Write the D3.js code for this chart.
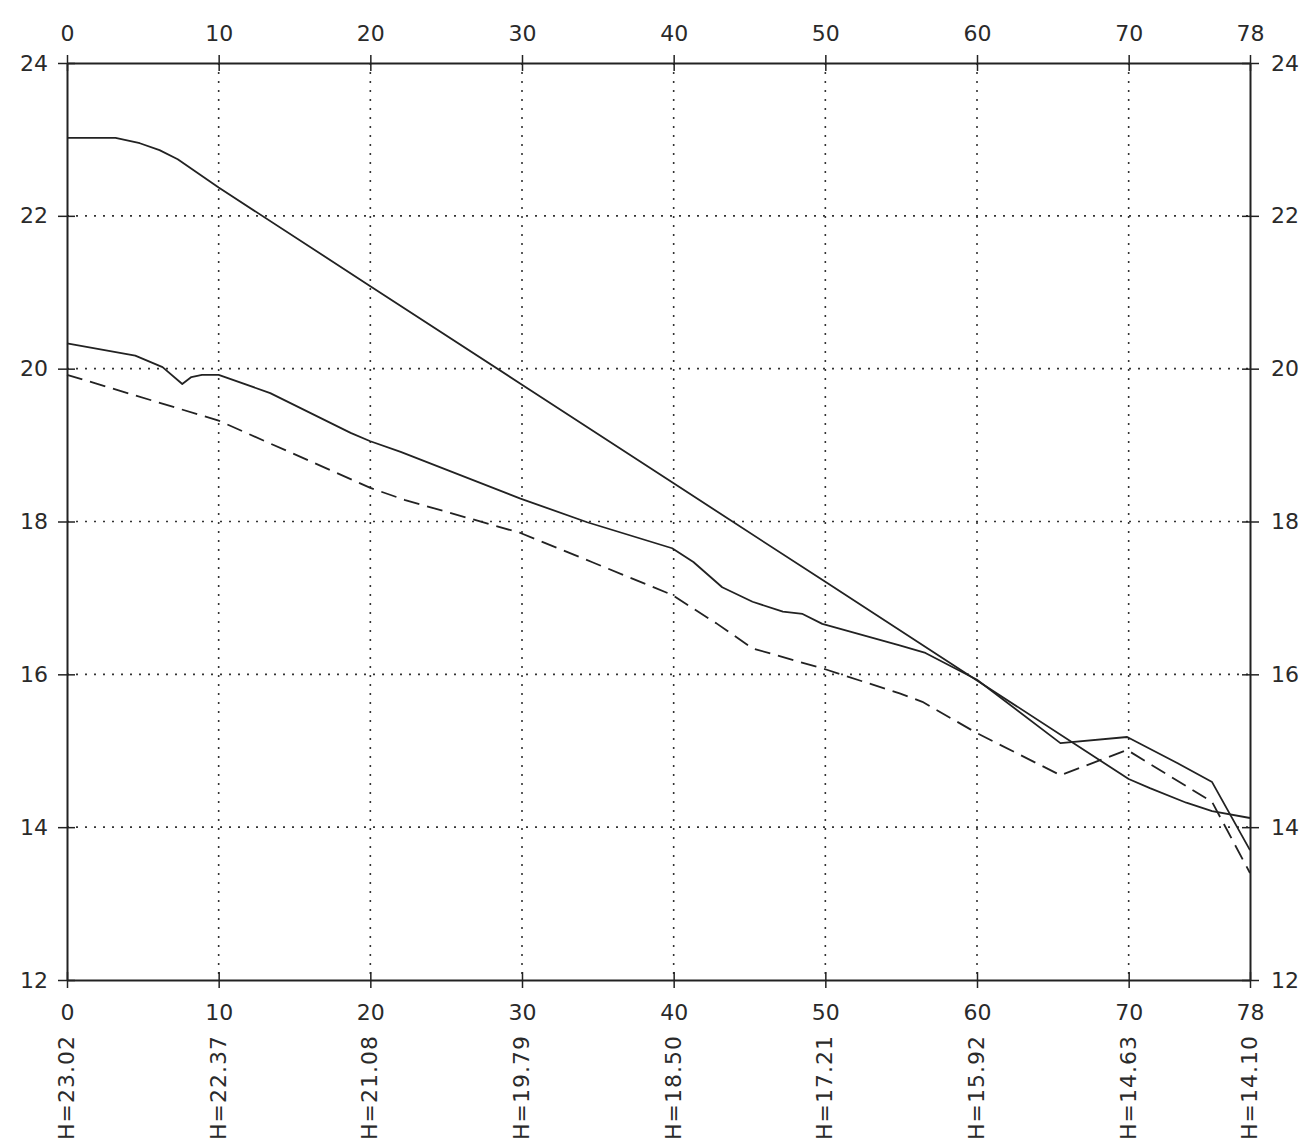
<!DOCTYPE html>
<html>
<head>
<meta charset="utf-8">
<script src="https://cdn.jsdelivr.net/npm/d3@7"></script>
<style>
  body { margin: 0; background: #fff; }
  text { font-family: "DejaVu Sans", sans-serif; font-size: 22px; fill: #2a2a2a; }
</style>
</head>
<body>
<div id="chart"></div>
<script>
// x ticks (top / bottom) and y ticks (left / right)
const xTicks = [0, 10, 20, 30, 40, 50, 60, 70, 78];
const yTicks = [12, 14, 16, 18, 20, 22, 24];
const hLabels = ['H=23.02', 'H=22.37', 'H=21.08', 'H=19.79', 'H=18.50', 'H=17.21', 'H=15.92', 'H=14.63', 'H=14.10'];

// upper solid line
const lineAx = [0, 3.2, 4.8, 6.1, 7.3, 10, 20, 30, 40, 50, 60, 70, 71.4, 73.8, 75.5, 78];
const lineAy = [23.02, 23.02, 22.95, 22.86, 22.74, 22.37, 21.08, 19.79, 18.50, 17.21, 15.92, 14.63, 14.51, 14.32, 14.21, 14.12];

// middle solid line
const lineBx = [0, 4.5, 6.3, 7.6, 8.2, 8.9, 10, 13.4, 18.7, 20, 22, 29.9, 34.3, 39.9, 41.3, 43.2, 45.2, 47.2, 48.5, 49.8, 54.9, 56.6, 60, 65.5, 69.9, 73.2, 75.5, 78];
const lineBy = [20.33, 20.17, 20.02, 19.80, 19.89, 19.92, 19.92, 19.68, 19.16, 19.05, 18.91, 18.30, 17.99, 17.65, 17.47, 17.14, 16.95, 16.82, 16.79, 16.66, 16.38, 16.28, 15.93, 15.10, 15.18, 14.84, 14.59, 13.70];

// dashed line
const lineCx = [0, 10, 20, 22.3, 29.9, 34.6, 39.9, 40.9, 42.8, 45.2, 50.1, 54.9, 56.4, 60, 65.5, 69.9, 75.5, 78];
const lineCy = [19.92, 19.32, 18.44, 18.28, 17.85, 17.47, 17.04, 16.91, 16.67, 16.34, 16.06, 15.75, 15.64, 15.23, 14.68, 15.01, 14.33, 13.40];

const width = 1306, height = 1147;
const x = d3.scaleLinear().domain([0, 78]).range([67, 1250]);
const y = d3.scaleLinear().domain([12, 24]).range([980, 63]);

const svg = d3.select('#chart').append('svg')
    .attr('width', width)
    .attr('height', height);

// Grid (dotted)
const grid = svg.append('g')
    .attr('stroke', '#333')
    .attr('stroke-width', 1.6)
    .attr('stroke-dasharray', '2,7');

grid.selectAll('line.v')
    .data(xTicks.filter(d => d > 0 && d < 78))
    .join('line')
    .attr('class', 'v')
    .attr('x1', d => x(d)).attr('x2', d => x(d))
    .attr('y1', y(24)).attr('y2', y(12));

grid.selectAll('line.h')
    .data(yTicks.filter(d => d > 12 && d < 24))
    .join('line')
    .attr('class', 'h')
    .attr('x1', x(0)).attr('x2', x(78))
    .attr('y1', d => y(d)).attr('y2', d => y(d));

// Axes
const axisStyle = g => {
    g.select('.domain').attr('stroke', '#222').attr('stroke-width', 2);
    g.selectAll('.tick line').attr('stroke', '#222').attr('stroke-width', 1.5);
    g.selectAll('.tick text').attr('font-size', null).attr('font-family', null).attr('fill', null);
};

svg.append('g')
    .attr('transform', `translate(0,${y(24)})`)
    .call(d3.axisTop(x).tickValues(xTicks).tickSize(8).tickPadding(14).tickSizeOuter(0))
    .call(axisStyle)
    .call(g => g.selectAll('.tick line').attr('y2', 8).attr('y1', -8));

svg.append('g')
    .attr('transform', `translate(0,${y(12)})`)
    .call(d3.axisBottom(x).tickValues(xTicks).tickSize(8).tickPadding(16).tickSizeOuter(0))
    .call(axisStyle)
    .call(g => g.selectAll('.tick line').attr('y1', -8).attr('y2', 8));

svg.append('g')
    .attr('transform', `translate(${x(0)},0)`)
    .call(d3.axisLeft(y).tickValues(yTicks).tickSize(9).tickPadding(10).tickSizeOuter(0))
    .call(axisStyle)
    .call(g => g.selectAll('.tick line').attr('x1', 8).attr('x2', -9));

svg.append('g')
    .attr('transform', `translate(${x(78)},0)`)
    .call(d3.axisRight(y).tickValues(yTicks).tickSize(9).tickPadding(12).tickSizeOuter(0))
    .call(axisStyle)
    .call(g => g.selectAll('.tick line').attr('x1', -8).attr('x2', 9));

// Rotated H labels under the bottom axis
svg.append('g')
    .selectAll('text')
    .data(xTicks)
    .join('text')
    .attr('transform', (d, i) => `translate(${x(d) + 1},1140) rotate(-90)`)
    .attr('dominant-baseline', 'middle')
    .attr('letter-spacing', 1)
    .text((d, i) => hLabels[i]);

// Lines
const lineGen = d3.line()
    .x(d => x(d[0]))
    .y(d => y(d[1]));

const series = [
    { xs: lineAx, ys: lineAy, dash: null },
    { xs: lineBx, ys: lineBy, dash: null },
    { xs: lineCx, ys: lineCy, dash: '16,8' }
];

svg.append('g')
    .selectAll('path')
    .data(series)
    .join('path')
    .attr('fill', 'none')
    .attr('stroke', '#222')
    .attr('stroke-width', 1.8)
    .attr('stroke-linejoin', 'round')
    .attr('stroke-dasharray', d => d.dash)
    .attr('d', d => lineGen(d.xs.map((v, i) => [v, d.ys[i]])));
</script>
</body>
</html>
